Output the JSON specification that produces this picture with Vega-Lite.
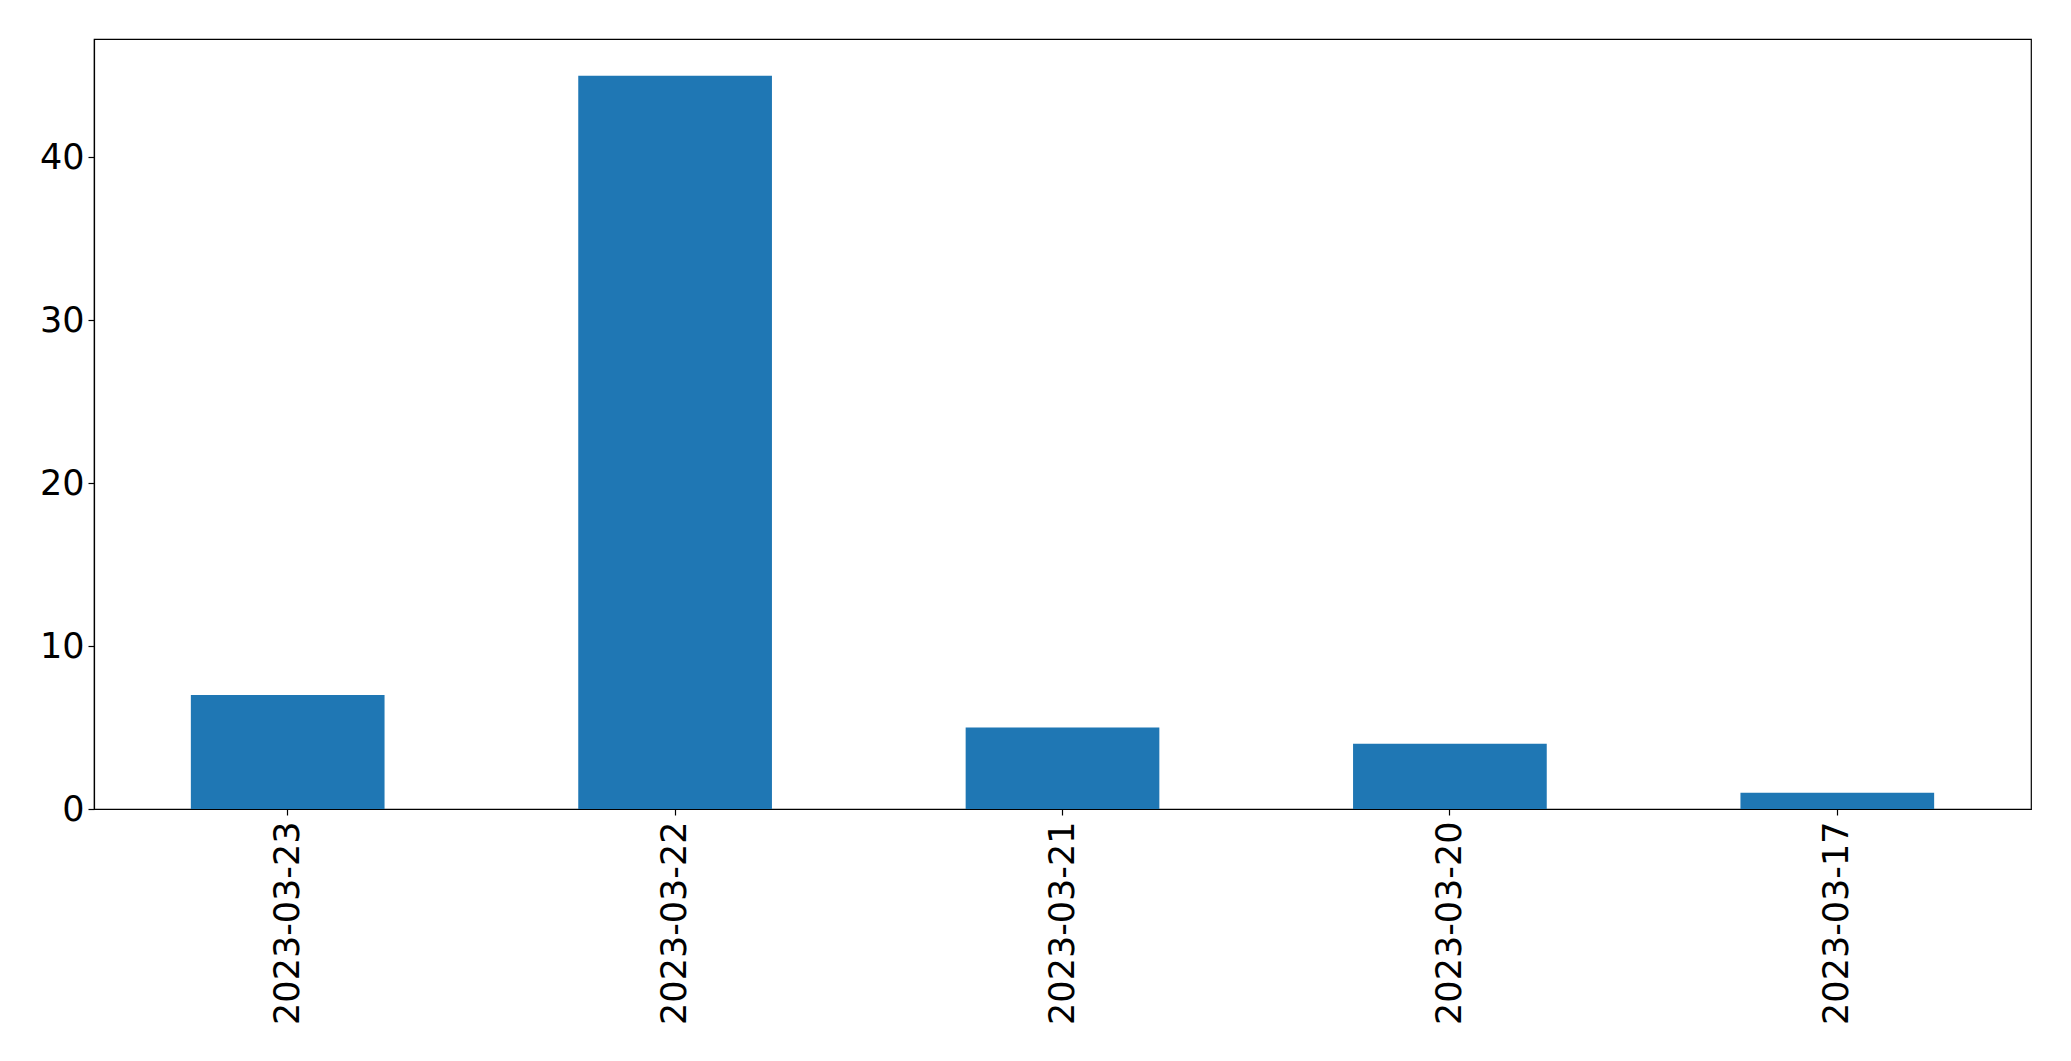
{
  "$schema": "https://vega.github.io/schema/vega-lite/v6.json",
  "autosize": {"type": "none"},
  "padding": {"left": 94, "top": 39, "right": 40, "bottom": 252},
  "width": 1937,
  "height": 770,
  "background": "white",
  "config": {
    "view": {"stroke": "black", "strokeWidth": 1.2},
    "axis": {
      "labelFont": "DejaVu Sans",
      "labelFontSize": 35,
      "labelColor": "black",
      "labelLimit": 0,
      "domainColor": "black",
      "tickColor": "black",
      "tickSize": 6,
      "tickWidth": 1.2,
      "domainWidth": 1.2,
      "grid": false,
      "title": null
    }
  },
  "data": {
    "values": [
      {"date": "2023-03-23", "count": 7},
      {"date": "2023-03-22", "count": 45},
      {"date": "2023-03-21", "count": 5},
      {"date": "2023-03-20", "count": 4},
      {"date": "2023-03-17", "count": 1}
    ]
  },
  "mark": {"type": "bar", "color": "#1f77b4"},
  "encoding": {
    "x": {
      "field": "date",
      "type": "nominal",
      "sort": null,
      "scale": {"paddingInner": 0.5, "paddingOuter": 0.25},
      "axis": {"labelAngle": -90, "labelPadding": 6, "labelLimit": 0, "title": null}
    },
    "y": {
      "field": "count",
      "type": "quantitative",
      "scale": {"domain": [0, 47.25], "nice": false},
      "axis": {"values": [0, 10, 20, 30, 40], "labelPadding": 4, "title": null}
    }
  }
}
